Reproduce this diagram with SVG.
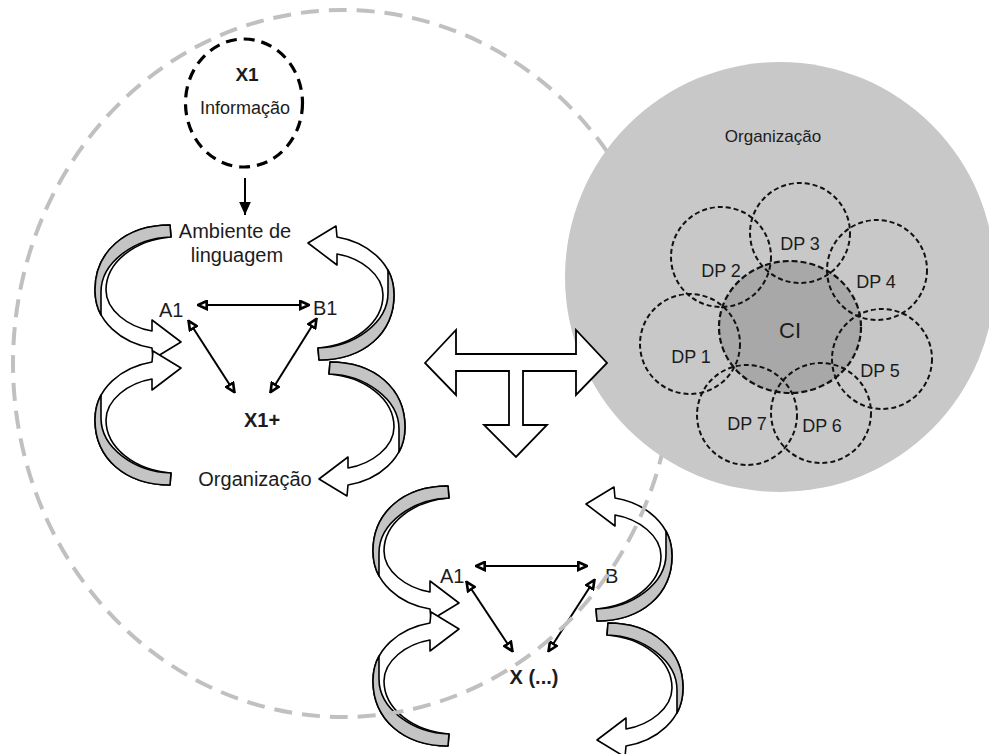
<svg xmlns="http://www.w3.org/2000/svg" width="989" height="754" viewBox="0 0 989 754">
  <style>
    text { font-family: "Liberation Sans", Arial, sans-serif; fill: #1c1c1c; }
    .lbl { font-size: 20px; }
    .mid { text-anchor: middle; }
    .b { font-weight: bold; }
    .dp { font-size: 18px; text-anchor: middle; }
    .curl-w { fill: #fff; stroke: #000; stroke-width: 1.6; stroke-linejoin: round; }
    .curl-g { fill: #c4c4c4; stroke: #000; stroke-width: 1.6; stroke-linejoin: round; }
    .rel { fill: none; stroke: #000; stroke-width: 2; marker-start: url(#ah); marker-end: url(#ah); }
    .dpc { fill: none; stroke: #111; stroke-width: 2; stroke-dasharray: 5 3; }
  </style>
  <defs>
    <!-- open head for the two-way relation arrows -->
    <marker id="ah" viewBox="0 0 10 10" refX="10" refY="5" markerWidth="11" markerHeight="11" markerUnits="userSpaceOnUse" orient="auto-start-reverse">
      <path d="M1.2,1.4 L9,5 L1.2,8.6 Z" fill="#fff" stroke="#000" stroke-width="2.4"/>
    </marker>
    <!-- solid head for the input arrow -->
    <marker id="ahb" viewBox="0 0 10 10" refX="10" refY="5" markerWidth="13" markerHeight="13" markerUnits="userSpaceOnUse" orient="auto">
      <path d="M0,0.5 L10,5 L0,9.5 Z" fill="#000"/>
    </marker>
    <!-- twisted ribbon arrow: tail at top, bulging left, head pointing right -->
    <g id="curl">
      <path class="curl-w" d="M170,225 C125,225 95,252 95,290 C95,322 122,343 152,348 L153,359 L181,342 L152,320 L152,331 C128,327 106,310 106,290 C106,262 135,240 171,237 Z"/>
      <path class="curl-g" d="M170,225 C125,225 95,252 95,290 C95,300 97,308 101,315 C101,308 101,300 101,292 C101,262 135,238 171,237 Z"/>
    </g>
  </defs>

  <!-- ribbon arrows of the upper cycle and the lower cycle -->
  <g id="cycle-arrows">
    <g id="cycle1-arrows">
      <use href="#curl"/>
      <use href="#curl" transform="matrix(1 0 0 -1 0 710)"/>
      <use href="#curl" transform="rotate(180 244.5 292.5)"/>
      <use href="#curl" transform="matrix(-1 0 0 1 500 137)"/>
    </g>
    <g id="cycle2-arrows" transform="translate(278 261)">
      <use href="#curl"/>
      <use href="#curl" transform="matrix(1 0 0 -1 0 710)"/>
      <use href="#curl" transform="rotate(180 244.5 292.5)"/>
      <use href="#curl" transform="matrix(-1 0 0 1 500 137)"/>
    </g>
  </g>

  <!-- relation arrows -->
  <g id="connectors">
    <path d="M245,178 L245,215" stroke="#000" stroke-width="2" fill="none" marker-end="url(#ahb)"/>
    <path class="rel" d="M197,305 L310,305"/>
    <path class="rel" d="M188,320 L235,393"/>
    <path class="rel" d="M317,318 L270,393"/>
    <path class="rel" d="M475,566 L588,566"/>
    <path class="rel" d="M466,581 L513,652"/>
    <path class="rel" d="M595,579 L548,652"/>
  </g>

  <!-- upper cycle labels -->
  <g id="ambiente">
    <text class="lbl mid" x="235" y="238">Ambiente de</text>
    <text class="lbl mid" x="237" y="262">linguagem</text>
  </g>
  <g id="a1-top"><text class="lbl" x="159" y="317">A1</text></g>
  <g id="b1-top"><text class="lbl" x="313" y="315">B1</text></g>
  <g id="x1plus"><text class="lbl mid b" x="262" y="427">X1+</text></g>
  <g id="organizacao-top"><text class="lbl mid" x="255" y="486">Organização</text></g>

  <!-- lower cycle labels -->
  <g id="a1-bottom"><text class="lbl" x="440" y="583">A1</text></g>
  <g id="b-bottom"><text class="lbl" x="605" y="583">B</text></g>
  <g id="x-etc"><text class="lbl mid b" x="534" y="684">X (...)</text></g>

  <!-- outer dashed boundary -->
  <ellipse cx="343" cy="363.5" rx="330" ry="353.5" fill="none" stroke="#c0c0c0" stroke-width="4" stroke-dasharray="18 10"/>

  <!-- information node -->
  <g id="x1">
    <ellipse cx="244" cy="103" rx="58.5" ry="64" fill="#fff" stroke="#000" stroke-width="3.2" stroke-dasharray="11 7"/>
    <text class="mid b" x="247" y="81" font-size="19">X1</text>
    <text class="mid" x="245" y="114" font-size="18">Informação</text>
  </g>

  <!-- organisation with its departments around the core -->
  <g id="organizacao">
    <circle cx="780" cy="277" r="215" fill="#c8c8c8"/>
    <text class="mid" x="773" y="142" font-size="17">Organização</text>
    <g id="ci">
      <ellipse cx="790" cy="327" rx="71" ry="66" fill="#a8a8a8" stroke="#111" stroke-width="2.2" stroke-dasharray="6 3"/>
      <text class="mid" x="790" y="338" font-size="22">CI</text>
    </g>
    <g id="dp1"><circle class="dpc" cx="690" cy="344" r="50"/><text class="dp" x="691" y="363">DP 1</text></g>
    <g id="dp2"><circle class="dpc" cx="721" cy="257" r="50"/><text class="dp" x="721" y="277">DP 2</text></g>
    <g id="dp3"><circle class="dpc" cx="800" cy="233" r="50"/><text class="dp" x="800" y="250">DP 3</text></g>
    <g id="dp4"><circle class="dpc" cx="877" cy="270" r="50"/><text class="dp" x="876" y="288">DP 4</text></g>
    <g id="dp5"><circle class="dpc" cx="882" cy="359" r="50"/><text class="dp" x="880" y="377">DP 5</text></g>
    <g id="dp6"><circle class="dpc" cx="821" cy="413" r="50"/><text class="dp" x="822" y="432">DP 6</text></g>
    <g id="dp7"><circle class="dpc" cx="747" cy="415" r="50"/><text class="dp" x="747" y="430">DP 7</text></g>
  </g>

  <!-- three-way block arrow -->
  <g id="t-arrow">
    <path d="M425,363 L456,330 L456,354 L576,354 L576,330 L607,363 L576,395 L576,371 L523,371 L523,425 L547,425 L516,457 L484,425 L509,425 L509,371 L456,371 L456,395 Z" fill="#fff" stroke="#000" stroke-width="1.8" stroke-linejoin="miter"/>
  </g>
</svg>
